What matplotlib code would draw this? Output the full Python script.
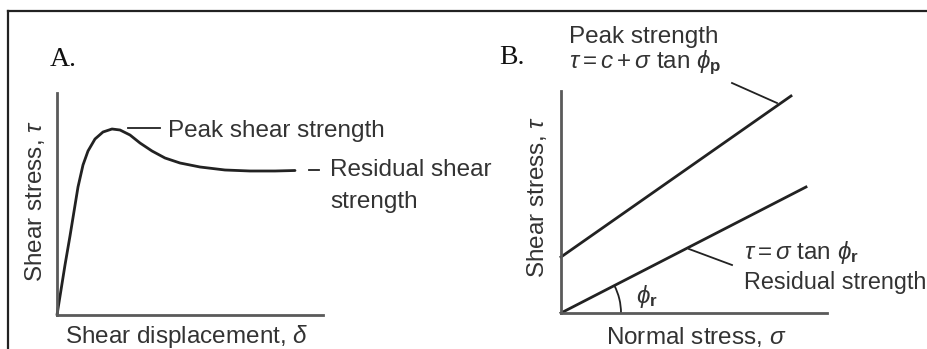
import matplotlib
matplotlib.use("Agg")
import matplotlib.pyplot as plt
from matplotlib.patches import Arc
from matplotlib.lines import Line2D
import numpy as np

plt.rcParams['font.family'] = ['Liberation Sans', 'DejaVu Sans']
plt.rcParams['mathtext.fontset'] = 'custom'
plt.rcParams['mathtext.rm'] = 'Liberation Sans'
plt.rcParams['mathtext.it'] = 'Liberation Sans:italic'
plt.rcParams['mathtext.bf'] = 'Liberation Sans:bold'

# ---- Data (panel A: shear stress vs displacement, arbitrary units) ----
disp = [0, 8, 13, 21, 26, 31, 38, 46, 55, 63, 73, 83, 95, 108, 123, 143, 168, 193, 218, 238]
shear = [0, 50, 79, 128, 150, 164, 176, 183, 186, 185, 180, 172, 164, 157, 152, 148, 145, 144, 144, 144.5]

# ---- Data (panel B: failure envelopes) ----
sigma_p = [0, 230]
tau_p = [56, 217]
sigma_r = [0, 245]
tau_r = [0, 126]

TXT = '#333333'
LINE = '#222222'
AX = '#5a5a5a'
FS = 17.5

W, H = 928, 349
fig = plt.figure(figsize=(W / 100, H / 100), dpi=100)

# border lines (top and left)
fig.add_artist(Line2D([8 / W, 1], [1 - 11 / H, 1 - 11 / H], color='#222222', lw=1.6))
fig.add_artist(Line2D([8 / W, 8 / W], [0, 1 - 11 / H], color='#222222', lw=1.6))


def make_ax(x0, ytop, w, h):
    ax = fig.add_axes([x0 / W, 1 - (ytop + h) / H, w / W, h / H])
    ax.set_xlim(0, w)
    ax.set_ylim(0, h)
    for s in ['top', 'right']:
        ax.spines[s].set_visible(False)
    for s in ['left', 'bottom']:
        ax.spines[s].set_color(AX)
        ax.spines[s].set_linewidth(2.0)
    ax.set_xticks([])
    ax.set_yticks([])
    ax.patch.set_alpha(0)
    return ax


# ---------------- Panel A ----------------
axA = make_ax(57, 93, 266, 222)
axA.plot(disp, shear, color=LINE, lw=2.0, solid_capstyle='round', clip_on=False)
axA.plot([71, 103], [187, 187], color=LINE, lw=1.3, clip_on=False)
axA.plot([252, 262], [145, 145], color=LINE, lw=1.3, clip_on=False)
axA.text(111, 184, 'Peak shear strength', fontsize=FS, color=TXT, ha='left', va='center')
axA.text(273, 145, 'Residual shear', fontsize=FS, color=TXT, ha='left', va='center', clip_on=False)
axA.text(273, 113, 'strength', fontsize=FS, color=TXT, ha='left', va='center')
axA.text(-7, 255, 'A.', fontsize=20, family='Liberation Serif', color='#111111', ha='left', va='center')
axA.text(-22, 114, r'Shear stress, $\tau$', fontsize=FS, color=TXT, rotation=90, ha='center', va='center')
axA.text(130, -22, r'Shear displacement, $\delta$', fontsize=FS, color=TXT, ha='center', va='center')

# ---------------- Panel B ----------------
axB = make_ax(561, 91, 266, 222)
axB.plot(sigma_p, tau_p, color=LINE, lw=2.0, clip_on=False)
axB.plot(sigma_r, tau_r, color=LINE, lw=2.0, clip_on=False)
ang = np.degrees(np.arctan2(tau_r[1] - tau_r[0], sigma_r[1] - sigma_r[0]))
axB.add_patch(Arc((0, 0), 120, 120, theta1=0, theta2=ang, color=LINE, lw=1.3))
axB.plot([171, 216], [230, 210], color=LINE, lw=1.3, clip_on=False)
axB.plot([128, 171], [64, 48], color=LINE, lw=1.3, clip_on=False)
axB.text(8, 276, 'Peak strength', fontsize=FS, color=TXT, ha='left', va='center')
axB.text(8, 250, r'$\tau = c + \sigma$ tan $\phi_\mathbf{p}$', fontsize=FS, color=TXT, ha='left', va='center')
axB.text(183, 60, r'$\tau = \sigma$ tan $\phi_\mathbf{r}$', fontsize=FS, color=TXT, ha='left', va='center')
axB.text(183, 30, 'Residual strength', fontsize=16.8, color=TXT, ha='left', va='center')
axB.text(75, 17, r'$\phi_\mathbf{r}$', fontsize=FS, color=TXT, ha='left', va='center')
axB.text(-62, 255, 'B.', fontsize=20, family='Liberation Serif', color='#111111', ha='left', va='center')
axB.text(-24, 116, r'Shear stress, $\tau$', fontsize=FS, color=TXT, rotation=90, ha='center', va='center')
axB.text(135, -24, r'Normal stress, $\sigma$', fontsize=FS, color=TXT, ha='center', va='center')

fig.savefig('out.png', dpi=100)
